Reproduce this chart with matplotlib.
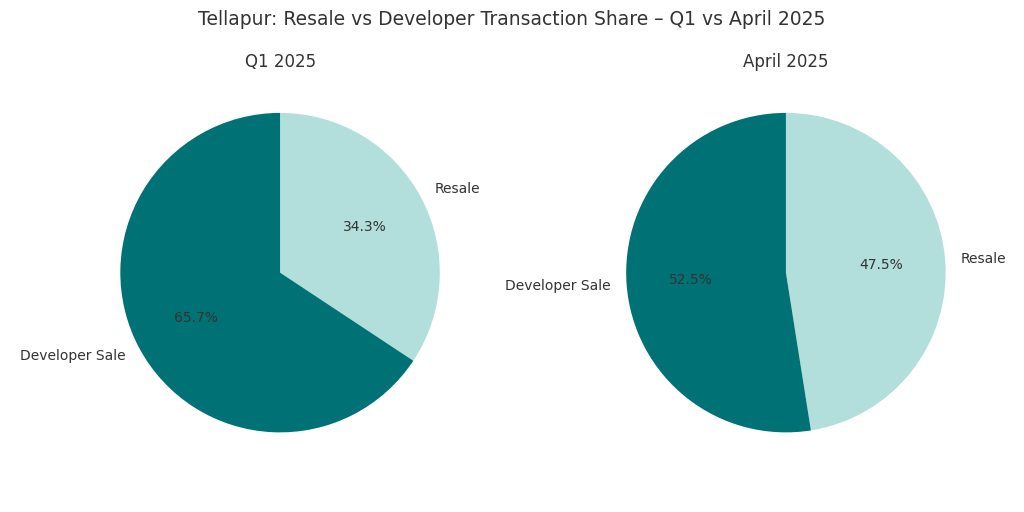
import matplotlib.pyplot as plt

labels = ["Resale", "Developer Sale"]
q1_values = [34.3, 65.7]
april_values = [47.5, 52.5]
titles = ["Q1 2025", "April 2025"]
colors = ["#b2dfdb", "#007275"]

plt.rcParams['text.color'] = '#333333'
fig = plt.figure(figsize=(10.24, 5.12), dpi=100)
axes = [fig.add_axes([0.078, 0.0775, 0.391, 0.78]), fig.add_axes([0.572, 0.0775, 0.391, 0.78])]
for ax, vals, t in zip(axes, [q1_values, april_values], titles):
    ax.pie(vals, labels=labels, colors=colors, autopct='%1.1f%%', startangle=90,
           counterclock=False, textprops={'fontsize': 10, 'color': '#333333'})
    ax.set_title(t, fontsize=12, color='#333333', pad=4)
    ax.set_aspect('equal')
fig.suptitle("Tellapur: Resale vs Developer Transaction Share – Q1 vs April 2025", fontsize=13.5, y=0.98, color='#333333')
fig.savefig("out.png", dpi=100)
